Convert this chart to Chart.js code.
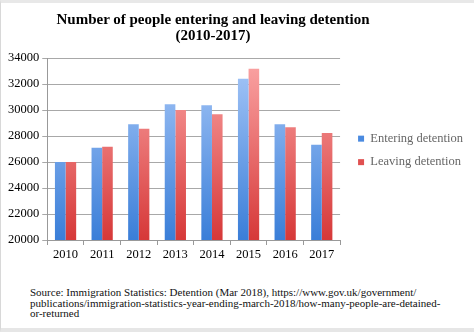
<!DOCTYPE html>
<html><head><meta charset="utf-8">
<script src="https://cdn.jsdelivr.net/npm/chart.js@4"></script>
<style>
html,body{margin:0;padding:0;background:#fff;}
#wrap{position:relative;width:474px;height:332px;background:#fff;box-sizing:border-box;border-top:3px solid #e8e8e8;border-left:1px solid #d8d8d8;border-bottom:4px solid #e6e6e6;overflow:hidden;}
#title{position:absolute;left:0;width:424px;top:8px;text-align:center;font-family:"Liberation Serif",serif;font-weight:bold;font-size:15px;line-height:16px;color:#000;}
#cv{position:absolute;left:0;top:0;}
#src{position:absolute;left:29px;top:284px;white-space:nowrap;font-family:"Liberation Serif",serif;font-size:11px;line-height:10.6px;color:#111;}
</style></head><body>
<div id="wrap">
<canvas id="cv" width="472" height="268"></canvas>
<div id="title">Number of people entering and leaving detention<br>(2010-2017)</div>
<div id="src">Source: Immigration Statistics: Detention (Mar 2018), https://www.gov.uk/government/<br>publications/immigration-statistics-year-ending-march-2018/how-many-people-are-detained-<br>or-returned</div>
</div>
<script>
const categories = ["2010","2011","2012","2013","2014","2015","2016","2017"];
const entering = [26000,27100,28900,30440,30360,32410,28900,27330];
const leaving  = [26000,27180,28560,30000,29670,33180,28670,28230];
const seriesNames = ["Entering detention","Leaving detention"];

function grad(ctx, top, bottom){
  const c = ctx.chart; const a = c.chartArea;
  if(!a) return top;
  const g = c.ctx.createLinearGradient(0, a.top, 0, a.bottom);
  g.addColorStop(0, top); g.addColorStop(1, bottom);
  return g;
}
new Chart(document.getElementById('cv'), {
  type:'bar',
  data:{labels:categories, datasets:[
    {label:seriesNames[0], data:entering, backgroundColor:(c)=>grad(c,'#a8c8f8','#3a7ed8'), borderWidth:0},
    {label:seriesNames[1], data:leaving, backgroundColor:(c)=>grad(c,'#fba6a6','#d63838'), borderWidth:0}
  ]},
  options:{
    responsive:false, animation:false, devicePixelRatio:1,
    layout:{padding:{top:55,right:0,left:4,bottom:7}},
    categoryPercentage:0.58, barPercentage:1,
    plugins:{
      title:{display:false},
      tooltip:{enabled:false},
      legend:{position:'right', align:'start', maxWidth:200,
        title:{display:true,text:' ',font:{size:12},padding:{top:49,bottom:0}},
        labels:{boxWidth:6,boxHeight:6,padding:11,color:'#000',
        generateLabels:(chart)=>chart.data.datasets.map((d,i)=>({text:d.label,fillStyle:i==0?'#4a8ae0':'#e05050',strokeStyle:'transparent',lineWidth:0,datasetIndex:i})),
        font:{family:'"Liberation Serif", serif',size:12.5}}}
    },
    scales:{
      x:{grid:{display:true,drawOnChartArea:false,offset:true,color:'#999',tickLength:5},
         border:{color:'#999'},
         ticks:{color:'#000',font:{family:'"Liberation Serif", serif',size:12.5},padding:2}},
      y:{min:20000,max:34000,
         ticks:{stepSize:2000,color:'#000',callback:(v)=>String(v),font:{family:'"Liberation Serif", serif',size:12.5},padding:3},
         grid:{color:'#a8a8a8',tickLength:5},
         border:{color:'#999'}},
      gap:{position:'right',display:true,min:0,max:1,
         grid:{drawOnChartArea:false,display:false},border:{display:false},
         ticks:{display:false},afterFit:(s)=>{s.width=7;}}
    }
  }
});
</script>
</body></html>
